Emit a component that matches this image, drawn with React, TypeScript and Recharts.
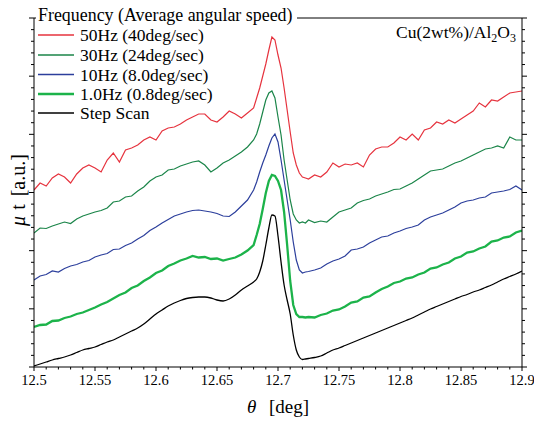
import React from "react";
import { LineChart, Line, XAxis, YAxis } from "recharts";

// theta [deg] sampling grid (finer around the edge peak)
const THETA = [
  12.5, 12.505, 12.51, 12.515, 12.52, 12.525, 12.53, 12.535, 12.54, 12.545,
  12.55, 12.555, 12.56, 12.565, 12.57, 12.575, 12.58, 12.585, 12.59, 12.595,
  12.6, 12.605, 12.61, 12.615, 12.62, 12.625, 12.63, 12.635, 12.64, 12.645,
  12.65, 12.655, 12.66, 12.665, 12.67, 12.675, 12.68,
  12.6825, 12.685, 12.6875, 12.69, 12.6925, 12.695, 12.6975, 12.7, 12.7025,
  12.705, 12.7075, 12.71, 12.7125, 12.715, 12.7175, 12.72, 12.7225,
  12.725, 12.73, 12.735, 12.74, 12.745, 12.75, 12.755, 12.76, 12.765, 12.77,
  12.775, 12.78, 12.785, 12.79, 12.795, 12.8, 12.805, 12.81, 12.815, 12.82,
  12.825, 12.83, 12.835, 12.84, 12.845, 12.85, 12.855, 12.86, 12.865, 12.87,
  12.875, 12.88, 12.885, 12.89, 12.895, 12.9,
];

// mu*t, arbitrary units (curves are offset vertically)
const STEP_SCAN = [
  1, 3, 5, 7, 8.5, 10, 12, 14.5, 17, 18.5, 20, 22.5, 25, 27, 30, 33, 36, 39, 43, 48,
  53, 57, 61, 64, 66.5, 68.5, 69.5, 70, 70, 69, 67, 66, 68, 72, 77, 81, 85,
  88, 95, 106, 122, 139, 152, 151, 131, 105, 82, 67, 53, 32, 17, 10, 7.5, 8,
  8.5, 9.5, 11, 14, 17, 19, 21.5, 24, 26.5, 29, 31.5, 34, 36.5, 39, 41.5, 44, 46.5,
  49, 52, 55, 58, 60.5, 63, 65.5, 68, 70.5, 72.5, 75, 77, 79.5, 82, 85, 88, 90.5, 93, 96,
];
const HZ_1 = [
  40, 42, 42.5, 46, 46.5, 49, 50.5, 53, 54.5, 57, 59.5, 62.5, 65, 68.5, 72, 74.5, 79,
  81.5, 86, 89.5, 94, 96.5, 101, 103.5, 106.5, 108.5, 111, 109.5, 110, 108, 108.5,
  106.5, 108, 109.5, 112.5, 116.5, 122,
  132, 143, 158, 174, 186, 192, 191, 186, 177, 155, 122, 86, 62, 53, 50, 50, 49.5,
  50, 49.5, 52, 53.5, 56.5, 57.5, 60.5, 64.5, 65.5, 69.5, 70.5, 74.5, 78, 80.5, 84,
  85.5, 88.5, 89.5, 92.5, 94.5, 98.5, 99.5, 102.5, 104.5, 108.5, 110.5, 114.5, 115.5,
  118.5, 120.5, 125.5, 126.5, 129.5, 130.5, 134.5, 136.5,
];
const HZ_10 = [
  87, 91, 92.5, 96, 95, 98.5, 101, 102.5, 105, 106.5, 110, 112, 113.5, 117.5, 118,
  121.5, 124, 128, 131.5, 136.5, 140, 144, 147.5, 151, 153, 155, 156.5, 157, 156, 155,
  153.5, 151, 150.5, 155, 161, 167, 177,
  185, 195, 204, 212, 221, 229, 233, 225, 207, 187, 167, 147, 125, 107, 97, 94, 95,
  95.5, 97, 99, 103, 106, 108, 111, 117, 118, 120, 124, 127, 130, 131, 134, 136, 138.5,
  140, 142, 147, 150, 152, 154, 157, 160, 164, 166, 167, 169, 170, 174, 175, 176, 177.5,
  181, 177,
];
const HZ_30 = [
  134, 139, 138.5, 141, 143, 145, 143.5, 148, 151, 153, 155, 156.5, 159, 165, 166, 170,
  171, 176, 180, 186, 190, 192, 197, 198, 201, 203, 205, 206, 202, 195, 199, 204, 207,
  211, 215, 220, 227,
  233, 243, 255, 267, 274, 276, 269, 250, 232, 207, 187, 167, 153, 147, 144, 145, 144,
  147, 144.5, 146, 145, 150, 155, 157, 159, 164, 166.5, 168, 171, 173, 175, 177.5, 178,
  181, 184, 188, 192, 196, 197, 198, 201, 204, 206, 209, 212, 215, 218, 219, 221, 219,
  230, 227, 227,
];
const HZ_50 = [
  177, 184, 181, 189, 193, 190, 184, 193, 199, 202, 199, 195, 207, 214, 205, 217, 219,
  222, 227, 230, 227, 236, 239, 240, 243, 247, 250, 253, 253, 247, 245, 250, 256, 253,
  249, 254, 259,
  269, 279, 291, 303, 317, 330, 327, 312, 299, 279, 257, 235, 214, 202, 194, 190, 189,
  188, 192, 190, 195, 204, 200, 203, 202, 204, 200, 212, 218, 220, 220, 224, 230, 227,
  233, 227, 237, 239, 245, 243, 247, 244, 248, 252, 256, 264, 260, 267, 266, 270, 274,
  275, 276,
];

const X_MAJOR = [12.5, 12.55, 12.6, 12.65, 12.7, 12.75, 12.8, 12.85, 12.9];
const Y_MAX = 349;

const SERIES = [
  { key: "hz50", name: "50Hz (40deg/sec)", color: "#e6333e", width: 1.2, values: HZ_50 },
  { key: "hz30", name: "30Hz (24deg/sec)", color: "#1b8549", width: 1.2, values: HZ_30 },
  { key: "hz10", name: "10Hz (8.0deg/sec)", color: "#2c3f9c", width: 1.2, values: HZ_10 },
  { key: "hz1", name: "1.0Hz (0.8deg/sec)", color: "#1cb34a", width: 2.3, values: HZ_1 },
  { key: "step", name: "Step Scan", color: "#000000", width: 1.3, values: STEP_SCAN },
];

const data = THETA.map((t, i) => {
  const row: Record<string, number> = { theta: t };
  SERIES.forEach((s) => {
    row[s.key] = s.values[i];
  });
  return row;
});

const X_TICKS = Array.from({ length: 41 }, (_, i) => (1250 + i) / 100);
const Y_TICKS = Array.from({ length: 31 }, (_, i) => (i * Y_MAX) / 30);

const FONT = "'Liberation Serif', 'DejaVu Serif', 'Times New Roman', serif";
const TXT = { fontFamily: FONT };

const isXMajor = (v: number) => Math.round(v * 100) % 5 === 0;
const isYMajor = (v: number) => Math.round((v * 30) / Y_MAX) % 5 === 0;

function BottomTick({ x, y, payload }: any) {
  const major = isXMajor(payload.value);
  const label = X_MAJOR.find((m) => Math.abs(m - payload.value) < 1e-6);
  return (
    <g>
      <line x1={x} x2={x} y1={y} y2={y + (major ? 4 : 2.5)} stroke="#000" />
      {major && (
        <text x={x} y={y + 18} textAnchor="middle" style={TXT} fontSize={14.5} fill="#000">
          {String(label)}
        </text>
      )}
    </g>
  );
}

function TopTick({ x, y, payload }: any) {
  const major = isXMajor(payload.value);
  return <line x1={x} x2={x} y1={y} y2={y - (major ? 4 : 2.5)} stroke="#000" />;
}

function LeftTick({ x, y, payload }: any) {
  const major = isYMajor(payload.value);
  return <line x1={x} x2={x - (major ? 5 : 3)} y1={y} y2={y} stroke="#000" />;
}

function RightTick({ x, y, payload }: any) {
  const major = isYMajor(payload.value);
  return <line x1={x} x2={x + (major ? 5 : 3)} y1={y} y2={y} stroke="#000" />;
}

const LEGEND_BASE = [41, 61, 80.5, 100, 119];

export default function App() {
  return (
    <div style={{ position: "fixed", left: 0, top: 0, width: 534, height: 422, background: "#fff" }}>
      <LineChart
        width={534}
        height={422}
        data={data}
        margin={{ top: 12, right: 6, bottom: 25, left: 28 }}
      >
        <XAxis
          dataKey="theta"
          type="number"
          domain={[12.5, 12.9]}
          allowDataOverflow
          ticks={X_TICKS}
          interval={0}
          tickSize={0}
          tickMargin={0}
          tickLine={false}
          height={30}
          axisLine={{ stroke: "#000" }}
          tick={<BottomTick />}
        />
        <XAxis
          xAxisId="top"
          orientation="top"
          type="number"
          domain={[12.5, 12.9]}
          allowDataOverflow
          ticks={X_TICKS}
          interval={0}
          tickSize={0}
          tickMargin={0}
          tickLine={false}
          height={6}
          axisLine={{ stroke: "#000" }}
          tick={<TopTick />}
        />
        <YAxis
          type="number"
          domain={[0, Y_MAX]}
          allowDataOverflow
          ticks={Y_TICKS}
          interval={0}
          tickSize={0}
          tickMargin={0}
          tickLine={false}
          width={6}
          axisLine={{ stroke: "#000" }}
          tick={<LeftTick />}
        />
        <YAxis
          yAxisId="right"
          orientation="right"
          type="number"
          domain={[0, Y_MAX]}
          allowDataOverflow
          ticks={Y_TICKS}
          interval={0}
          tickSize={0}
          tickMargin={0}
          tickLine={false}
          width={6}
          axisLine={{ stroke: "#000" }}
          tick={<RightTick />}
        />
        {SERIES.map((s) => (
          <Line
            key={s.key}
            dataKey={s.key}
            type={s.key === "step" ? "monotone" : "linear"}
            stroke={s.color}
            strokeWidth={s.width}
            dot={false}
            activeDot={false}
            isAnimationActive={false}
          />
        ))}
      </LineChart>
      <svg
        width={534}
        height={422}
        style={{ position: "absolute", left: 0, top: 0, pointerEvents: "none", fontFamily: FONT }}
      >
        <rect x={36} y={9} width={261} height={17} fill="#fff" />
        <text x={38} y={21} style={TXT} fontSize={17.9} fill="#000">
          Frequency (Average angular speed)
        </text>
        {SERIES.map((s, i) => (
          <g key={s.key}>
            <line
              x1={38}
              x2={74}
              y1={LEGEND_BASE[i] - 6}
              y2={LEGEND_BASE[i] - 6}
              stroke={s.color}
              strokeWidth={s.key === "hz1" ? 2.4 : 1.3}
            />
            <text x={80} y={LEGEND_BASE[i]} style={TXT} fontSize={17.5} fill="#000">
              {s.name}
            </text>
          </g>
        ))}
        <text x={516} y={38} style={TXT} fontSize={17.5} textAnchor="end" fill="#000">
          Cu(2wt%)/Al
          <tspan fontSize={12} dy={4}>2</tspan>
          <tspan dy={-4}>O</tspan>
          <tspan fontSize={12} dy={4}>3</tspan>
        </text>
        <text x={247} y={413} style={TXT} fontSize={19} fontStyle="italic" fill="#000">
          θ
        </text>
        <text x={269} y={413} style={TXT} fontSize={19} fill="#000">
          [deg]
        </text>
        <text
          transform="translate(25,190) rotate(-90)"
          textAnchor="middle"
          style={TXT}
          fontSize={20}
          fill="#000"
        >
          <tspan fontStyle="italic">μ</tspan>
          <tspan dx={6}>t</tspan>
          <tspan dx={8}>[a.u.]</tspan>
        </text>
      </svg>
    </div>
  );
}
